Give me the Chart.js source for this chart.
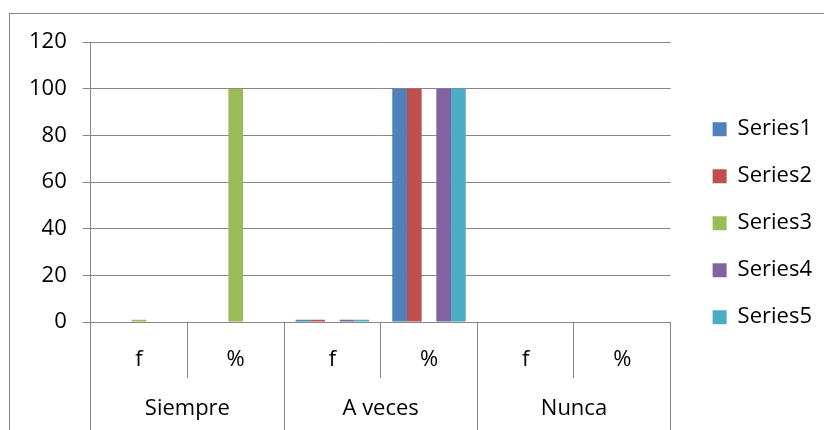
<!DOCTYPE html>
<html>
<head>
<meta charset="utf-8">
<script src="https://cdn.jsdelivr.net/npm/chart.js@4/dist/chart.umd.min.js"></script>
<style>
  html, body { margin: 0; padding: 0; background: #ffffff; overflow: hidden; }
  canvas { display: block; }
</style>
</head>
<body>
<canvas id="chart" width="824" height="430"></canvas>
<script>
// Response groups and the two measures shown under each one
const groups = ['Siempre', 'A veces', 'Nunca'];
const measures = ['f', '%', 'f', '%', 'f', '%'];

// Series values, one per measure column
const series1 = [0, 0, 1, 100, 0, 0];
const series2 = [0, 0, 1, 100, 0, 0];
const series3 = [1, 100, 0, 0, 0, 0];
const series4 = [0, 0, 1, 100, 0, 0];
const series5 = [0, 0, 1, 100, 0, 0];

const seriesNames = ['Series1', 'Series2', 'Series3', 'Series4', 'Series5'];
const seriesColors = ['#4F81BD', '#C0504D', '#9BBB59', '#8064A2', '#4BACC6'];

// Value axis ticks
const yTickValues = [0, 20, 40, 60, 80, 100, 120];

const lineGray = '#868686';
const fontFamily = '"Open Sans", "Liberation Sans", sans-serif';
const fontSize = 22;

// Thin frame around the whole chart object
const chartFrame = {
  id: 'chartFrame',
  beforeDraw(chart) {
    const ctx = chart.ctx;
    ctx.save();
    ctx.strokeStyle = lineGray;
    ctx.lineWidth = 1;
    ctx.strokeRect(9.5, 13.5, chart.width + 20, chart.height + 20);
    ctx.restore();
  }
};

const values = [series1, series2, series3, series4, series5];

new Chart(document.getElementById('chart'), {
  type: 'bar',
  data: {
    labels: measures,
    datasets: values.map((v, i) => ({
      label: seriesNames[i],
      data: v,
      backgroundColor: seriesColors[i],
      borderWidth: 0,
      categoryPercentage: 0.76,
      barPercentage: 1.0
    }))
  },
  options: {
    responsive: false,
    animation: false,
    devicePixelRatio: 1,
    layout: { padding: { top: 42, left: 13, right: 2, bottom: 7 } },
    font: { family: fontFamily, size: fontSize },
    plugins: {
      tooltip: { enabled: false },
      legend: {
        position: 'right',
        align: 'start',
        title: { display: true, text: '', font: { size: 16 }, padding: { top: 32, bottom: 0 } },
        labels: {
          color: '#000',
          boxWidth: 14,
          boxHeight: 14,
          padding: 25,
          font: { family: fontFamily, size: fontSize }
        }
      }
    },
    scales: {
      // inner level of the category axis: f / %
      x: {
        position: 'bottom',
        offset: true,
        grid: { display: true, drawOnChartArea: false, offset: true, tickLength: 56, color: lineGray, lineWidth: 1 },
        border: { display: true, color: lineGray, width: 1 },
        ticks: {
          color: '#000', padding: -31, autoSkip: false, maxRotation: 0,
          font: { family: fontFamily, size: fontSize }
        },
        afterFit: (scale) => { scale.height = 50; }
      },
      // outer level of the category axis: response groups
      x2: {
        type: 'category',
        position: 'bottom',
        labels: groups,
        offset: true,
        grid: { display: true, drawOnChartArea: false, offset: true, tickLength: 60, color: lineGray, lineWidth: 1 },
        border: { display: false },
        ticks: {
          color: '#000', padding: -36, autoSkip: false, maxRotation: 0,
          font: { family: fontFamily, size: fontSize }
        },
        afterFit: (scale) => { scale.height = 51; }
      },
      y: {
        position: 'left',
        min: 0,
        max: 120,
        afterBuildTicks: (scale) => { scale.ticks = yTickValues.map(v => ({ value: v })); },
        grid: { color: lineGray, lineWidth: 1, tickLength: 8, drawTicks: true },
        border: { display: true, color: lineGray, width: 1 },
        ticks: { color: '#000', padding: 16, font: { family: fontFamily, size: fontSize } }
      },
      // spacer between plot area and legend
      gap: {
        type: 'linear',
        position: 'right',
        display: true,
        grid: { display: false, drawOnChartArea: false, drawTicks: false },
        border: { display: false },
        ticks: { display: false },
        afterFit: (scale) => { scale.width = 17; }
      }
    }
  },
  plugins: [chartFrame]
});
</script>
</body>
</html>
